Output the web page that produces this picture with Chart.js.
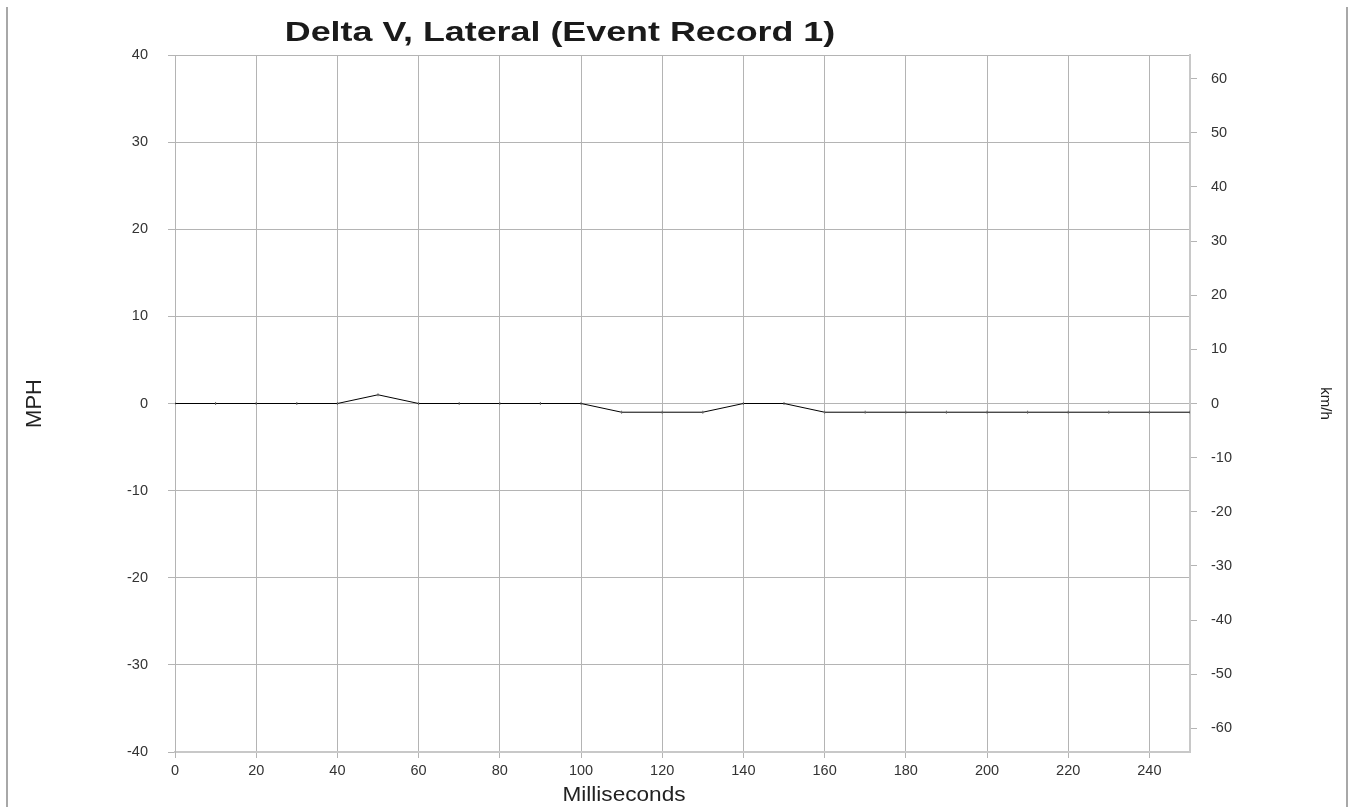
<!DOCTYPE html>
<html>
<head>
<meta charset="utf-8">
<script src="https://cdn.jsdelivr.net/npm/chart.js@4/dist/chart.umd.min.js"></script>
<style>
  html, body { margin: 0; padding: 0; background: #fff; }
  #frame { position: absolute; left: 6px; top: 7px; width: 1338px; height: 820px;
           border-left: 2px solid #a8a8a8; border-right: 2px solid #a8a8a8; }
  #wrap { position: absolute; left: 0; top: 0; width: 1348px; height: 807px; }
</style>
</head>
<body>
<div id="frame"></div>
<div id="wrap"><canvas id="chart" width="1348" height="807"></canvas></div>
<script>
// Time stamps (ms) and lateral delta V (MPH)
const times = [0, 10, 20, 30, 40, 50, 60, 70, 80, 90, 100, 110, 120, 130, 140, 150, 160, 170, 180, 190, 200, 210, 220, 230, 240, 250];
const deltaV = [0, 0, 0, 0, 0, 1, 0, 0, 0, 0, 0, -1, -1, -1, 0, 0, -1, -1, -1, -1, -1, -1, -1, -1, -1, -1];

// Tick labels
const mphTicks = [-40, -30, -20, -10, 0, 10, 20, 30, 40];
const kmhTicks = [-60, -50, -40, -30, -20, -10, 0, 10, 20, 30, 40, 50, 60];
const msTicks = [0, 20, 40, 60, 80, 100, 120, 140, 160, 180, 200, 220, 240];

const MPH_TO_KMH = 1.609344;
const gridColor = '#b4b4b4';
const textColor = '#333';
const fontFamily = '"Liberation Sans", Arial, sans-serif';

// draw text stretched sideways, the original's text is wider than Arial
function wideText(ctx, text, x, y, sx) {
  ctx.save();
  ctx.translate(x, y);
  ctx.scale(sx, 1);
  ctx.fillText(text, 0, 0);
  ctx.restore();
}

// Title and x axis title drawn where the original puts them
const textPlugin = {
  id: 'texts',
  afterDraw(chart) {
    const ctx = chart.ctx;
    ctx.save();
    ctx.fillStyle = '#1a1a1a';
    ctx.textAlign = 'center';
    ctx.textBaseline = 'middle';
    ctx.font = 'bold 28px ' + fontFamily;
    wideText(ctx, 'Delta V, Lateral (Event Record 1)', 560, 33, 1.28);
    ctx.fillStyle = '#222';
    ctx.font = '20px ' + fontFamily;
    wideText(ctx, 'Milliseconds', 624, 795, 1.13);
    ctx.restore();
  }
};

new Chart(document.getElementById('chart'), {
  type: 'line',
  data: {
    datasets: [{
      data: times.map((t, i) => ({ x: t, y: deltaV[i] })),
      borderColor: '#000',
      borderWidth: 1,
      pointStyle: 'line',
      rotation: 90,
      pointRadius: 1.5,
      pointBorderColor: '#666',
      pointBorderWidth: 1,
      tension: 0,
      fill: false
    }]
  },
  options: {
    responsive: false,
    animation: false,
    layout: { padding: { top: 55, left: 0, right: 0, bottom: 0 } },
    plugins: {
      legend: { display: false },
      tooltip: { enabled: false }
    },
    scales: {
      x: {
        type: 'linear',
        min: 0,
        max: 250,
        afterBuildTicks: s => { s.ticks = msTicks.map(v => ({ value: v })); },
        afterFit: s => { s.height = 55; },
        ticks: { color: textColor, font: { size: 14.5, family: fontFamily }, padding: 4, maxRotation: 0 },
        grid: { color: gridColor, tickLength: 6 },
        border: { color: '#c8c8c8', width: 2 }
      },
      y: {
        position: 'left',
        min: -40,
        max: 40,
        afterBuildTicks: s => { s.ticks = mphTicks.map(v => ({ value: v })); },
        afterFit: s => { s.width = 175; },
        ticks: { color: textColor, font: { size: 14.5, family: fontFamily }, padding: 20 },
        grid: { color: gridColor, tickLength: 7 },
        border: { color: gridColor },
        title: { display: true, text: 'MPH', color: '#222', font: { size: 22, family: fontFamily }, padding: { top: 22, bottom: 0 } }
      },
      y2: {
        position: 'right',
        min: -40 * MPH_TO_KMH,
        max: 40 * MPH_TO_KMH,
        afterBuildTicks: s => { s.ticks = kmhTicks.map(v => ({ value: v })); },
        afterFit: s => { s.width = 158; },
        ticks: { color: textColor, font: { size: 14.5, family: fontFamily }, padding: 14 },
        grid: { drawOnChartArea: false, color: gridColor, tickLength: 7 },
        border: { color: '#c8c8c8', width: 2 },
        title: { display: true, text: 'km/h', color: '#222', font: { size: 15, family: fontFamily }, padding: { top: 14, bottom: 0 } }
      }
    }
  },
  plugins: [textPlugin]
});
</script>
</body>
</html>
